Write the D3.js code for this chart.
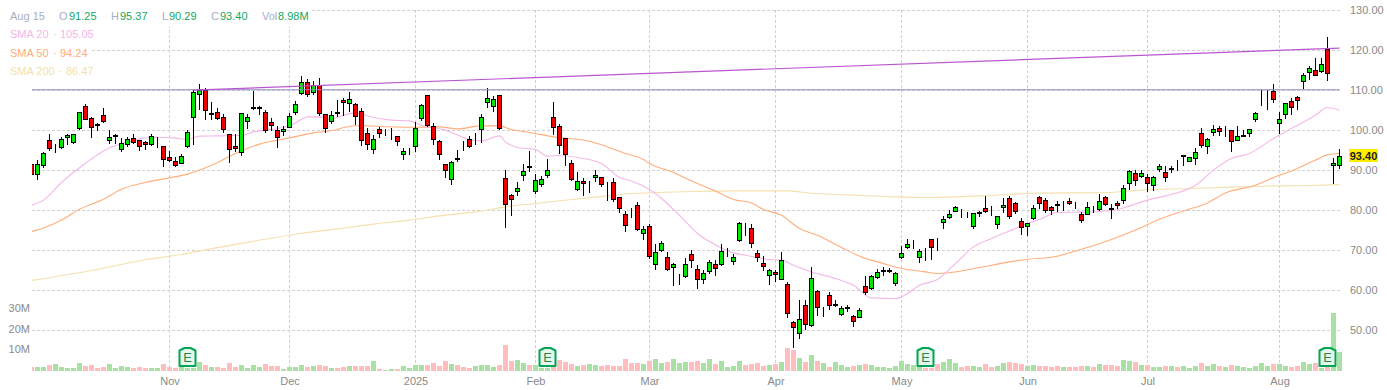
<!DOCTYPE html>
<html>
<head>
<meta charset="utf-8">
<script src="https://cdnjs.cloudflare.com/ajax/libs/d3/7.8.5/d3.min.js"></script>
<style>
	html, body { margin: 0; padding: 0; background: #fff; }
	svg { display: block; font-family: "Liberation Sans", Arial, sans-serif; }
	.axis text { fill: #8a8a8a; font-size: 11px; font-family: "Liberation Sans", Arial, sans-serif; }
	.axis .domain, .axis line { display: none; }
	.grid { stroke: #d0d0d0; stroke-width: 1; stroke-dasharray: 3 2; }
</style>
</head>
<body>
<svg id="chart" width="1387" height="390"></svg>
<script>
// one entry per trading day, oldest first
var opens = [
	91.58,88.91,91.16,97.58,95.0,95.66,98.24,96.91,100.41,105.99,
	103.08,101.49,103.74,97.41,98.6,95.16,96.49,97.99,97.49,96.99,
	96.41,97.2,95.99,93.24,92.24,91.74,95.99,103.24,108.99,109.99,
	104.05,104.49,103.24,98.99,95.99,94.41,102.24,105.6,105.6,104.49,
	101.99,99.99,99.74,100.74,104.41,109.16,111.99,109.49,111.24,103.91,
	102.24,104.4,107.49,106.74,106.49,104.74,99.24,95.24,100.24,99.7,
	99.5,98.49,93.99,94.65,95.91,102.99,108.74,100.91,97.24,91.49,
	87.74,92.95,96.3,97.74,98.0,100.24,106.99,105.99,108.74,87.99,
	83.74,84.66,88.66,90.95,84.74,86.49,88.66,103.24,100.99,97.99,
	91.74,85.24,87.24,86.65,88.24,88.24,86.55,86.99,83.24,78.99,
	78.5,81.24,74.24,75.99,66.49,69.99,68.24,65.66,62.75,63.41,
	68.99,65.24,62.74,64.66,66.41,66.41,68.5,67.24,72.41,75.8,
	75.49,69.24,66.74,63.74,64.41,62.74,61.49,51.99,49.24,56.24,
	51.16,59.74,55.2,58.74,56.3,53.99,55.6,53.49,53.24,60.99,
	60.49,63.24,64.85,64.85,61.74,68.16,70.74,70.8,68.24,70.0,
	72.74,70.75,76.99,78.24,79.74,78.8,78.8,75.99,79.35,80.49,
	79.0,76.49,80.74,82.99,81.74,77.24,75.99,77.99,83.24,82.49,
	80.74,81.4,81.95,82.24,81.0,78.99,78.99,80.0,80.16,83.24,
	80.49,81.74,82.49,86.74,89.16,88.49,88.24,86.24,90.16,89.49,
	90.35,91.55,93.6,92.24,92.99,99.24,95.91,99.49,100.49,99.65,
	99.99,97.49,98.6,99.24,102.66,106.95,107.15,109.74,101.74,103.99,
	107.24,108.24,112.24,114.49,114.99,114.74,120.24,91.24,91.25
];
var highs = [
	91.8,92.58,94.66,99.08,96.74,98.41,99.24,99.24,104.74,106.58,
	103.41,101.91,105.58,100.24,99.24,98.08,98.41,99.24,97.58,97.41,
	99.08,98.41,96.08,94.83,93.41,94.08,100.08,110.24,111.74,110.58,
	107.08,105.74,104.24,99.08,99.08,104.24,104.08,109.91,106.24,105.24,
	103.08,101.08,101.24,104.41,107.33,113.58,112.91,112.33,113.08,104.08,
	104.83,107.58,108.16,109.58,106.91,105.58,100.74,98.99,100.99,100.41,
	100.74,98.74,95.74,95.74,102.08,106.74,108.99,101.83,97.74,91.74,
	92.41,95.08,97.33,98.74,99.41,104.08,110.74,108.74,108.74,90.08,
	84.24,87.24,91.58,94.83,89.24,88.58,92.83,107.24,101.58,98.24,
	92.58,89.58,88.24,87.41,90.24,88.41,87.08,88.08,83.41,79.99,
	80.74,82.24,76.24,76.74,71.74,72.49,69.74,66.91,64.24,68.24,
	70.08,66.41,65.08,67.58,67.58,71.58,70.74,69.08,77.08,76.91,
	76.58,70.08,68.58,65.41,65.24,69.58,62.24,52.41,57.58,57.74,
	65.83,60.24,55.91,59.58,57.74,56.24,56.41,53.91,55.74,63.74,
	63.83,65.41,65.91,65.74,64.58,71.08,72.99,72.58,70.41,70.74,
	72.74,73.24,78.58,80.08,81.08,80.33,79.58,79.49,79.99,83.58,
	81.08,78.74,83.08,83.58,82.16,78.24,76.99,81.49,83.74,83.24,
	81.08,82.33,82.33,83.24,82.08,79.74,82.24,81.24,84.08,83.74,
	81.74,82.41,86.33,90.24,90.08,90.08,89.24,88.58,91.74,91.08,
	91.08,92.74,93.99,93.41,95.66,100.58,98.08,101.33,101.08,101.08,
	100.08,101.08,100.08,100.41,104.58,110.08,110.08,111.58,104.58,106.99,
	108.08,108.58,114.41,116.08,118.08,118.08,123.41,93.08,95.37
];
var lows = [
	88.6,87.58,90.66,94.91,94.41,95.33,96.33,96.58,100.08,102.58,
	98.08,99.91,101.91,96.58,96.58,94.58,95.91,96.58,94.91,95.24,
	96.24,95.74,90.91,92.24,90.99,91.58,95.74,96.41,105.08,102.58,
	102.74,102.74,99.41,91.91,94.58,93.74,100.41,105.24,103.82,99.41,
	99.91,95.66,98.58,100.58,103.91,108.99,108.41,108.91,103.58,99.41,
	101.74,103.41,103.66,104.58,101.33,96.08,95.24,94.08,98.08,98.74,
	97.58,96.08,92.58,93.91,94.58,102.41,100.91,96.41,92.58,88.08,
	86.41,92.16,94.83,95.74,96.41,96.91,105.58,104.58,100.24,75.58,
	78.58,83.58,87.33,89.58,84.08,85.91,88.08,98.91,94.08,91.08,
	87.41,84.91,83.58,84.41,87.08,85.91,82.41,82.24,79.41,74.58,
	78.08,74.83,72.58,67.91,65.08,69.58,64.91,61.08,61.41,63.24,
	65.58,60.41,61.58,64.08,63.58,66.08,68.41,66.41,72.08,73.74,
	70.58,67.08,64.91,61.41,62.08,62.58,53.08,45.58,47.91,50.08,
	50.91,53.58,53.41,55.08,55.91,53.74,54.58,50.91,53.08,58.91,
	60.24,62.91,63.58,64.41,61.08,67.83,70.49,70.41,66.91,67.41,
	67.58,69.91,75.33,77.91,79.58,78.24,78.08,75.41,78.41,79.41,
	78.58,75.33,79.41,77.91,79.24,73.91,73.74,77.74,80.49,79.49,
	78.82,79.74,79.91,81.33,80.49,76.91,78.82,79.41,79.91,81.08,
	77.83,80.33,81.74,85.08,86.16,88.24,84.66,84.83,89.66,87.08,
	89.41,89.91,91.16,92.08,91.41,95.66,94.08,98.66,98.66,98.41,
	94.66,97.41,98.41,98.41,102.16,106.24,105.24,106.91,99.08,102.91,
	103.91,105.24,110.33,112.58,113.58,114.41,112.41,86.58,90.29
];
var closes = [
	88.91,91.58,94.33,95.41,95.1,97.83,98.74,99.08,104.58,102.66,
	100.66,101.16,102.16,98.24,98.7,96.74,97.74,96.91,95.91,96.49,
	98.49,97.3,92.66,92.41,91.24,93.49,99.49,109.49,109.99,104.99,
	104.15,102.99,100.24,95.16,95.49,104.24,103.24,105.7,105.7,99.99,
	101.24,98.24,100.24,103.49,106.49,111.99,108.91,111.24,104.16,100.49,
	103.74,104.3,106.99,107.74,103.49,97.49,96.49,97.74,99.24,99.8,
	99.6,97.24,94.74,94.75,100.49,106.24,101.16,97.74,93.99,89.99,
	91.99,92.85,96.2,95.91,98.1,103.24,107.99,107.74,100.41,81.49,
	82.74,85.49,89.74,90.85,87.49,87.74,89.99,100.74,96.24,93.99,
	87.74,87.24,86.66,86.75,88.74,86.49,86.45,82.74,80.49,76.24,
	78.4,75.16,75.24,68.49,69.49,71.74,65.16,66.49,62.85,66.49,
	67.41,62.74,64.24,66.99,65.49,69.74,68.6,68.24,76.74,75.7,
	71.74,68.24,65.91,64.99,63.99,67.49,54.24,50.74,52.74,51.49,
	62.99,55.74,55.3,56.24,56.4,55.49,55.7,52.24,54.99,59.49,
	63.49,64.41,64.95,64.95,64.24,69.24,71.41,70.85,69.74,69.9,
	70.74,70.65,77.74,78.99,80.74,78.7,78.7,79.24,79.45,79.74,
	78.9,78.49,81.24,78.49,79.74,75.74,76.74,80.49,81.74,79.99,
	79.99,81.3,82.05,81.74,80.9,77.49,80.74,79.9,82.24,81.41,
	80.24,81.24,85.49,89.74,87.49,89.24,86.74,88.24,90.99,88.24,
	90.45,91.45,93.7,93.16,94.49,96.24,97.74,100.24,99.74,99.75,
	97.16,98.49,98.7,100.24,104.24,107.05,107.25,107.74,102.74,106.74,
	105.74,107.49,113.74,115.49,113.74,116.49,114.24,91.74,93.4
];
// volume in millions
var volumes = [
	1.8,1.8,1.9,2.9,3.4,1.9,1.5,1.5,3.9,2.4,
	2.9,1.5,1.9,3.4,1.5,2.4,1.9,1.5,1.9,1.5,
	1.5,1.5,3.4,1.9,1.5,1.9,1.5,1.5,4.4,2.9,
	1.9,1.9,1.5,3.9,1.9,2.9,1.5,2.9,1.9,3.4,
	2.4,2.4,1.0,1.9,1.9,2.9,1.9,2.4,2.9,2.4,
	1.5,1.5,1.9,2.4,2.4,2.4,2.4,4.8,1.0,0.5,
	1.0,1.0,2.4,1.5,2.9,2.9,2.9,3.9,2.4,4.8,
	3.4,2.9,1.9,1.5,2.4,2.9,2.9,1.9,2.9,12.6,
	4.8,5.3,3.9,2.9,2.9,1.5,1.5,2.1,5.3,4.4,
	3.4,2.4,2.9,3.4,2.9,2.4,2.9,2.4,2.4,5.8,
	3.9,3.9,3.4,4.8,5.8,3.9,4.4,5.8,3.9,4.4,
	4.4,4.8,3.9,5.8,3.4,4.8,1.9,2.4,4.8,2.9,
	3.4,3.9,2.4,2.9,3.4,4.4,11.1,10.2,6.3,4.4,
	7.7,4.8,3.9,1.9,4.4,2.9,1.9,2.4,2.9,3.4,
	2.9,1.9,1.9,1.5,2.4,4.8,3.4,2.9,1.9,1.5,
	1.5,3.4,4.4,5.8,3.9,1.9,2.4,2.4,1.9,3.4,
	1.9,2.4,3.9,4.4,3.9,3.4,2.4,2.9,2.4,2.4,
	1.9,2.4,1.9,1.9,1.9,2.4,2.4,1.9,3.4,2.9,
	2.9,2.4,5.3,4.8,4.4,2.9,2.9,1.9,1.9,2.4,
	2.4,1.9,2.4,1.5,2.4,3.9,2.4,3.4,2.4,1.9,
	2.9,2.4,1.9,1.5,2.4,3.9,2.4,3.4,3.4,2.4,
	1.9,2.4,4.4,3.4,3.9,1.5,1.8,28.1,8.98
];

var sma20Idx = [0,2,5,9,12,15,18,21,24,26,28,31,35,37,41,43,45,46,48,50,51,54,57,60,63,65,69,73,75,78,79,81,84,86,88,91,95,98,100,103,105,108,111,115,117,119,123,125,127,130,134,137,140,144,146,148,151,154,157,160,164,166,168,171,175,178,181,186,189,194,197,200,203,207,210,214,216,218];
var sma20Val = [81.3,82.6,87,91.8,94.9,96.75,97.9,98.3,98.1,97.75,98.6,98.65,98.8,99.65,100.5,101.1,102.8,103.4,103.4,102.8,103.3,104.4,103.25,102.6,102.4,101.3,100.1,97.75,97.4,98.65,97.15,95.75,95.25,93.6,93.75,93.25,91.75,88.25,87.4,85.25,83,78.8,74.25,70.65,69.4,68.8,67.75,67.6,66.3,64.65,63,61.3,58.15,58,59.25,61.3,62.75,66.75,70.9,73,75.5,76.75,77.75,79.5,79.6,79.75,80.25,82.6,83.65,86.3,90.1,93,94.25,98,100.5,103.8,105.75,105.05];
var sma50Idx = [0,2,5,8,12,15,19,23,26,30,34,38,43,47,51,52,55,58,63,68,71,75,78,80,83,87,93,96,99,102,103,107,108,111,114,117,120,122,125,128,131,135,139,141,145,149,151,154,158,163,166,170,175,180,184,188,192,196,199,204,207,210,214,216,218];
var sma50Val = [74.75,75.6,77.6,80.3,82.8,85.3,87,88.15,89.1,91.3,94.25,96.6,98.15,99.4,100.25,100.75,101.25,101,100.8,100.9,100.4,101.15,101.15,100.25,99.5,98.4,97.3,95.9,94.25,92.75,91.75,89.5,88.8,86.75,84.9,82.75,81.9,80.25,78.8,75.5,73.8,70.75,68,67.15,65.5,64.65,64.25,64.65,65.75,67.15,67.8,68.3,70.3,72.75,75.1,77.8,79.9,81.9,84.4,86.3,88.25,89.9,92.6,93.9,94.24];
var sma200Idx = [0,10,19,25,28,39,45,51,57,63,68,74,79,84,90,96,100,104,110,117,126,130,136,144,150,158,167,179,185,193,201,207,213,218];
var sma200Val = [62.5,65,67.7,69,69.9,72.8,74.3,75.4,76.6,77.6,78.65,79.65,80.9,81.75,82.75,83.65,84.25,84.5,84.75,84.9,84.9,84.3,83.9,83.4,83.25,83.65,84.3,84.5,85.1,85.5,85.9,86.15,86.25,86.47];

// hand drawn lines on the chart [start, end]
var resistanceIdx = [0, 218], resistanceVal = [110.2, 110.2];
var trendIdx = [27, 218], trendVal = [110.1, 120.6];

var earningsIdx = [26, 86, 149, 216];
var monthIdx = [23, 43, 64, 84, 103, 124, 145, 166, 186, 208];
var monthLabels = ['Nov', 'Dec', '2025', 'Feb', 'Mar', 'Apr', 'May', 'Jun', 'Jul', 'Aug'];
var priceTicks = [50, 60, 70, 80, 90, 100, 110, 120, 130];
var volumeTicks = [10, 20, 30];

var lastClose = 93.40;
var quoteLabels = ['O', 'H', 'L', 'C', 'Vol'];
var quoteValues = ['91.25', '95.37', '90.29', '93.40', '8.98M'];
var smaNames = ['SMA 20', 'SMA 50', 'SMA 200'];
var smaLast = ['105.05', '94.24', '86.47'];

var upColor = '#00e600', downColor = '#f00000',
	upVolume = '#a9e0a4', downVolume = '#ffbdbd';

var svg = d3.select('#chart');

var x = d3.scaleLinear().domain([0, 218]).range([31.5, 1339.5]);
var y = d3.scaleLinear().domain([50, 130]).range([330.5, 10.5]);
var yVol = d3.scaleLinear().domain([0, 30]).range([371, 309]);

function crisp(v) { return Math.round(v - 0.5) + 0.5; }

svg.append('defs').append('clipPath').attr('id', 'plot')
	.append('rect').attr('x', 32).attr('y', 0).attr('width', 1310).attr('height', 372);

// grid
svg.append('g').selectAll('line').data(priceTicks).enter().append('line')
	.attr('class', 'grid')
	.attr('x1', 32).attr('x2', 1342)
	.attr('y1', function(d) { return y(d); })
	.attr('y2', function(d) { return y(d); });

svg.append('g').selectAll('line').data(monthIdx).enter().append('line')
	.attr('class', 'grid')
	.attr('x1', function(d) { return x(d); })
	.attr('x2', function(d) { return x(d); })
	.attr('y1', 10).attr('y2', 371);

// white box behind the legend
svg.append('rect').attr('x', 0).attr('y', 0).attr('width', 312).attr('height', 27).attr('fill', '#fff');
svg.append('rect').attr('x', 0).attr('y', 27).attr('width', 92).attr('height', 53).attr('fill', '#fff');

var plot = svg.append('g').attr('clip-path', 'url(#plot)');

// volume
plot.append('g').selectAll('rect').data(volumes).enter().append('rect')
	.attr('x', function(d, i) { return x(i) - 2.5; })
	.attr('width', 5)
	.attr('y', function(d) { return Math.round(yVol(d)); })
	.attr('height', function(d) { return 371 - Math.round(yVol(d)); })
	.attr('fill', function(d, i) { return closes[i] >= opens[i] ? upVolume : downVolume; });

// moving averages
var line = d3.line()
	.x(function(d) { return x(d[0]); })
	.y(function(d) { return y(d[1]); })
	.curve(d3.curveMonotoneX);

function drawLine(idx, val, color, width) {
	plot.append('path')
		.datum(d3.zip(idx, val))
		.attr('fill', 'none')
		.attr('stroke', color)
		.attr('stroke-width', width)
		.attr('d', line);
}
drawLine(sma200Idx, sma200Val, '#f5e0ae', 1.1);
drawLine(sma50Idx, sma50Val, '#ffae7c', 1.1);
drawLine(sma20Idx, sma20Val, '#f4b8e8', 1.1);

// candles
var candle = plot.append('g').selectAll('g').data(opens).enter().append('g');

candle.append('line')
	.attr('x1', function(d, i) { return x(i); })
	.attr('x2', function(d, i) { return x(i); })
	.attr('y1', function(d, i) { return Math.round(y(highs[i])); })
	.attr('y2', function(d, i) { return Math.round(y(lows[i])); })
	.attr('stroke', '#000')
	.attr('stroke-width', 1);

candle.append('rect')
	.attr('x', function(d, i) { return x(i) - 2; })
	.attr('width', 4)
	.attr('y', function(d, i) { return crisp(y(Math.max(opens[i], closes[i]))); })
	.attr('height', function(d, i) {
		return crisp(y(Math.min(opens[i], closes[i]))) - crisp(y(Math.max(opens[i], closes[i])));
	})
	.attr('fill', function(d, i) { return closes[i] >= opens[i] ? upColor : downColor; })
	.attr('stroke', '#000')
	.attr('stroke-width', 1);

// drawn lines
drawLine(resistanceIdx, resistanceVal, '#8d8dc6', 1.1);
drawLine(trendIdx, trendVal, '#bb55cf', 1.2);

// earnings badges
var badge = svg.append('g').selectAll('g').data(earningsIdx).enter().append('g')
	.attr('transform', function(d) { return 'translate(' + x(d) + ',0)'; });

badge.append('path')
	.attr('d', 'M-8,350.5 L-3,348 L3,348 L8,350.5 L8,366 L-8,366 Z')
	.attr('fill', '#e8f5ec')
	.attr('stroke', '#00a651')
	.attr('stroke-width', 2)
	.attr('stroke-linejoin', 'round');

badge.append('text')
	.attr('text-anchor', 'middle')
	.attr('y', 362)
	.attr('font-size', 13)
	.attr('fill', '#1f8a50')
	.text('E');

// axes
svg.append('g').attr('class', 'axis')
	.attr('transform', 'translate(1350,-1)')
	.call(d3.axisRight(y).tickValues(priceTicks).tickSize(0).tickPadding(0).tickFormat(d3.format('.2f')));

svg.append('g').attr('class', 'axis')
	.attr('transform', 'translate(30,-1)')
	.call(d3.axisLeft(yVol).tickValues(volumeTicks).tickSize(0).tickPadding(0).tickFormat(function(d) { return d + 'M'; }));

svg.append('g').attr('class', 'axis')
	.attr('transform', 'translate(0,377)')
	.call(d3.axisBottom(x).tickValues(monthIdx).tickSize(0).tickPadding(0).tickFormat(function(d) {
		return monthLabels[monthIdx.indexOf(d)];
	}));

// last price tag
svg.append('rect').attr('x', 1349).attr('y', 149).attr('width', 29).attr('height', 13).attr('fill', '#ffee00');
svg.append('text')
	.attr('x', 1363.5).attr('y', 159.5)
	.attr('text-anchor', 'middle')
	.attr('font-size', 11).attr('font-weight', 'bold').attr('fill', '#222')
	.text(d3.format('.2f')(lastClose));

// legend
var legend = svg.append('g').attr('font-size', 11);
legend.append('text').attr('x', 10).attr('y', 20).attr('fill', '#a9aec0').text('Aug 15');

var quoteLabelX = [59, 111, 162, 211, 262], quoteValueX = [69, 120, 169, 220, 278];
quoteLabels.forEach(function(label, i) {
	legend.append('text').attr('x', quoteLabelX[i]).attr('y', 20).attr('fill', '#a9aec0').text(label);
	legend.append('text').attr('x', quoteValueX[i]).attr('y', 20).attr('fill', '#13a860').text(quoteValues[i]);
});

var smaColors = ['#f3b6e6', '#ffac78', '#f2dfae'],
	smaRowY = [38, 57, 75], smaDotX = [53, 53, 59], smaValueX = [60, 60, 66];
smaNames.forEach(function(name, i) {
	legend.append('text').attr('x', 10).attr('y', smaRowY[i]).attr('fill', smaColors[i]).text(name);
	legend.append('text').attr('x', smaDotX[i]).attr('y', smaRowY[i]).attr('fill', smaColors[i]).text('\u00b7');
	legend.append('text').attr('x', smaValueX[i]).attr('y', smaRowY[i]).attr('fill', smaColors[i]).text(smaLast[i]);
});
</script>
</body>
</html>
